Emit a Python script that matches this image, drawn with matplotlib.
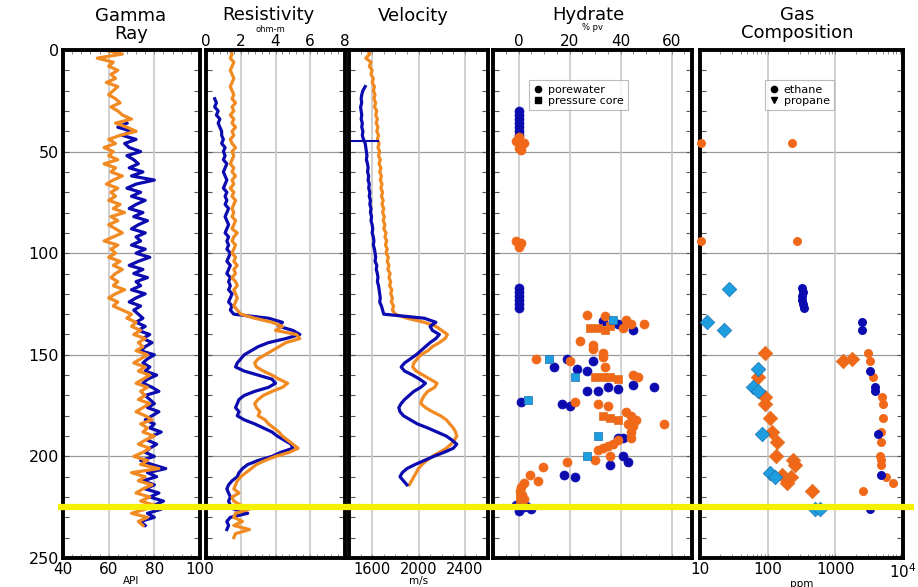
import numpy as np
import matplotlib
matplotlib.use("Agg")
import matplotlib.pyplot as plt
from matplotlib.ticker import MultipleLocator, FixedLocator, FixedFormatter, AutoMinorLocator, NullFormatter
from matplotlib.lines import Line2D

plt.rcParams['font.family'] = ['DejaVu Sans']

# ---------------- data ----------------
# gamma ray (API)
gr_orange_depth = np.arange(0, 236, 2)
gr_orange = [58, 66, 55, 62, 60, 64,
             61, 63, 59, 64, 62, 60, 63, 65, 61, 64,
             66, 70, 63, 68, 72, 65, 60, 63, 58, 62,
             60, 64, 58, 63, 61, 66, 62, 59, 64, 61,
             63, 60, 65, 62, 67, 61, 64, 60, 63, 66,
             62, 58, 64, 61, 63, 60, 65, 62, 66, 63,
             61, 64, 62, 67, 63, 60, 64, 62, 66, 70,
             68, 72, 70, 74, 71, 76, 73, 75, 72, 77,
             74, 71, 76, 73, 78, 75, 72, 77, 74, 76,
             73, 78, 75, 72, 76, 79, 74, 77, 75, 80,
             76, 73, 78, 75, 71, 77, 74, 82, 70, 76,
             73, 79, 75, 72, 78, 74, 80, 76, 70, 77, 73, 75]
gr_blue_depth = np.arange(36, 236, 2)
gr_blue = [68, 64, 70, 66, 72, 67, 69, 74, 68, 71,
           73, 69, 75, 70, 80, 72, 68, 74, 70, 76,
           72, 69, 75, 71, 77, 73, 70, 76, 72, 74,
           70, 76, 72, 78, 73, 69, 75, 71, 77, 72,
           74, 70, 76, 72, 69, 74, 71, 73, 75, 72,
           76, 73, 78, 75, 79, 76, 74, 80, 77, 75,
           78, 76, 81, 77, 75, 79, 82, 76, 78, 80,
           77, 82, 79, 76, 80, 78, 83, 79, 77, 81,
           78, 76, 80, 74, 79, 85, 77, 81, 75, 80,
           76, 82, 78, 84, 80, 83, 77, 80, 74, 76]

# resistivity (ohm-m)
res_orange_depth = np.arange(0, 242, 2)
res_orange = [1.4, 1.5, 1.4, 1.6, 1.5, 1.4, 1.5, 1.6, 1.5, 1.4, 1.5,
              1.6, 1.5, 1.7, 1.5, 1.6, 1.4, 1.6, 1.5, 1.7, 1.5,
              1.6, 1.4, 1.5, 1.7, 1.5, 1.6, 1.5, 1.4, 1.6, 1.5,
              1.7, 1.5, 1.6, 1.4, 1.6, 1.5, 1.7, 1.6, 1.5, 1.6,
              1.5, 1.7, 1.6, 1.5, 1.8, 1.6, 1.5, 1.7, 1.6, 1.5,
              1.7, 1.6, 1.8, 1.6, 1.7, 1.5, 1.7, 1.8, 1.6, 1.7,
              1.8, 1.7, 1.6, 1.8, 2.0,
              2.8, 3.8, 4.4, 4.0, 5.2, 5.4, 4.6, 4.2, 3.8, 3.4,
              3.0, 2.8, 2.9, 3.3, 3.8, 4.2, 4.7, 4.4, 3.8, 3.3,
              3.0, 2.8, 2.9, 3.1, 3.0, 3.4, 3.6, 3.9, 4.2, 4.4,
              4.7, 5.0, 5.3, 4.8, 4.0, 3.4, 2.9, 2.6, 2.3, 2.0,
              1.8, 1.7, 1.6, 1.9, 1.5, 1.6, 2.0, 2.5, 1.7, 1.6,
              2.1, 1.6, 2.5, 1.7, 1.6]
res_blue_depth = np.arange(24, 238, 2)
res_blue = [0.5, 0.6, 0.5, 0.7, 0.6, 0.8, 0.7, 0.8, 0.9,
            0.9, 1.0, 0.9, 1.1, 1.0, 1.1, 1.0, 1.2, 1.1, 1.0,
            1.1, 1.2, 1.1, 1.0, 1.2, 1.1, 1.2, 1.1, 1.3, 1.2,
            1.1, 1.2, 1.3, 1.2, 1.1, 1.3, 1.2, 1.3, 1.2, 1.4,
            1.3, 1.2, 1.4, 1.3, 1.2, 1.4, 1.3, 1.4, 1.3, 1.5,
            1.4, 1.3, 1.5, 1.4, 1.6,
            3.6, 4.4, 4.2, 5.0, 5.4, 4.6, 3.6, 3.0, 2.6, 2.2,
            2.0, 1.8, 1.7, 2.2, 3.0, 3.8, 4.0, 3.6, 2.8, 2.2,
            1.9, 1.8, 1.7, 1.9, 1.8, 2.2, 2.8, 3.3, 3.8, 4.1,
            4.5, 4.9, 5.0, 4.3, 3.8, 3.0, 2.4, 2.1, 1.9, 1.8,
            1.5, 1.3, 1.2, 1.3, 1.4, 1.3, 1.4, 1.6, 2.4, 1.4,
            1.2, 1.3, 1.2]

# velocity (m/s)
vel_orange_depth = np.arange(0, 216, 2)
vel_orange = [1560, 1580, 1545, 1590, 1575, 1600, 1590, 1610, 1600, 1620, 1610,
              1625, 1615, 1630, 1620, 1640, 1630, 1645, 1635, 1650, 1640,
              1655, 1645, 1660, 1650, 1665, 1655, 1670, 1660, 1675, 1665,
              1680, 1670, 1685, 1675, 1690, 1680, 1695, 1685, 1700, 1690,
              1705, 1695, 1710, 1700, 1720, 1710, 1725, 1715, 1730, 1720,
              1740, 1730, 1745, 1735, 1755, 1745, 1760, 1750, 1770, 1760,
              1775, 1765, 1785, 1775, 1800,
              1900, 2050, 2150, 2200, 2250, 2230, 2180, 2120, 2080, 2020,
              1990, 1960, 1950, 1980, 2040, 2100, 2160, 2140, 2080, 2050,
              2030, 2020, 2060, 2120, 2190, 2240, 2270, 2300, 2320, 2330,
              2310, 2280, 2240, 2180, 2120, 2070, 2030, 2000, 1980, 1960,
              1940, 1920]
vel_blue_depth = np.arange(18, 216, 2)
vel_blue = [1540, 1520, 1510, 1505, 1510, 1500, 1505,
            1510, 1505, 1515, 1510, 1520, 1515, 1525,
            1540, 1545, 1550, 1555, 1550, 1560, 1565, 1560,
            1570, 1565, 1575, 1570, 1580, 1575, 1585, 1580, 1590, 1585,
            1595, 1590, 1600, 1605, 1600, 1610, 1615, 1610, 1620, 1625,
            1630, 1625, 1640, 1635, 1645, 1650, 1645, 1655, 1660, 1665,
            1670, 1665, 1680, 1690, 1700,
            2050, 2150, 2100, 2120, 2180, 2150, 2100, 2060, 2020, 1980,
            1930, 1880, 1850, 1880, 1950, 2010, 2060, 2020, 1960, 1920,
            1880, 1850, 1830, 1840, 1870, 1930, 1990, 2080, 2160, 2240,
            2290, 2330, 2300, 2220, 2130, 2050, 1970, 1900, 1860, 1840,
            1870, 1900]
vel_jog_depth = [45, 45]
vel_jog = [1420, 1650]

# hydrate (% pore volume)
hyd_pw_a_depth = [30, 32, 34, 36, 38, 40, 42, 117, 119, 121, 123, 125, 127,
                  133.5, 135, 138, 152, 153, 156, 157, 158, 165, 168, 168, 166, 167, 166,
                  173, 174, 175, 191, 191, 200, 203, 204, 209, 210,
                  224, 225, 226, 227, 224.5]
hyd_pw_a = [0, 0, 0, 0, 0, 0, 0, 0, 0, 0, 0, 0, 0,
            33, 39, 45, 19, 29, 14, 23, 27, 45, 27, 31, 35, 39, 53,
            1, 17, 20, 39, 41, 41, 43, 36, 18, 22,
            -1, 2, 5, 0, 3]
hyd_pw_b_depth = [43, 45, 46, 48, 49, 94, 95, 97,
                  130.5, 131, 133, 135, 135, 137, 143, 145, 147, 149, 151, 152, 153, 156,
                  160, 161, 173, 174, 175, 178, 180, 182, 184, 185, 184, 188, 191,
                  192, 194, 195, 196, 197, 200, 202, 203, 205, 209, 212, 213, 215,
                  217, 219, 221]
hyd_pw_b = [0, -1, 2, 0, 1, -1, 1, 0,
            27, 34, 42, 44, 49, 41, 24, 29, 29, 33, 33, 7, 20, 34,
            45, 47, 22, 31, 35, 42, 44, 46, 43, 45, 57, 44, 44,
            39, 37, 35, 33, 31, 36, 30, 19, 9.5, 4.4, 7.5, 2, 1,
            0.5, 1.5, 2]
hyd_pc_a_depth = [133, 152, 161, 172, 190, 200]
hyd_pc_a = [37, 12, 22, 3.6, 31, 27]
hyd_pc_b_depth = [137, 137, 138, 136, 161, 161, 161, 162, 180, 181, 182, 221, 219]
hyd_pc_b = [28, 31, 34, 36, 30, 33, 36, 39, 33, 36, 39, 0.4, 0.5]

# gas composition (ppm)
eth_a_depth = [117, 119, 121, 123, 125, 127, 134, 138, 158, 166, 168, 189, 209, 226]
eth_a = [320, 330, 320, 320, 330, 340, 2450, 2500, 3200, 3800, 3900, 4300, 4800, 3200]
eth_b_depth = [45.7, 46, 94, 94, 149, 153, 161, 171, 174, 181, 188, 193, 200, 202, 204, 210, 213, 217]
eth_b = [10.5, 228, 10.5, 270, 3000, 3200, 3600, 4900, 5000, 5000, 4700, 4700, 4600, 4700,
         4800, 5700, 7000, 2550]
prop_a_depth = [117.5, 134, 138, 157, 166, 168, 189, 208, 210, 226, 226]
prop_a = [27, 12.7, 23, 72, 60, 72, 82, 108, 128, 500, 590]
prop_b_depth = [149, 152, 153, 161, 171, 174, 181, 188, 193, 200, 202, 204, 209, 210, 213, 217]
prop_b = [91, 1780, 1300, 72, 91, 91, 108, 116, 137, 133, 235, 250, 165, 220, 192, 450]

hydrate_depth = 225

# ---------------- figure ----------------
W, H = 918, 587
fig = plt.figure(figsize=(W / 100, H / 100), dpi=100)

def pos(x0, x1, y0=50, y1=558):
    return [x0 / W, 1 - y1 / H, (x1 - x0) / W, (y1 - y0) / H]

orange = '#f28a22'
blue = '#0b0bb0'
ptorange = '#f06818'
ltblue = '#1e9ee0'
gridc = '#c8c8c8'

ax_gr = fig.add_axes(pos(63, 200))
ax_res = fig.add_axes(pos(206, 345))
ax_vel = fig.add_axes(pos(349, 488))
ax_hyd = fig.add_axes(pos(493, 692))
ax_gas = fig.add_axes(pos(700, 903))
axes = [ax_gr, ax_res, ax_vel, ax_hyd, ax_gas]

for ax in axes:
    ax.set_ylim(250, 0)
    ax.yaxis.set_major_locator(MultipleLocator(50))
    ax.yaxis.set_minor_locator(MultipleLocator(10))
    ax.tick_params(axis='y', which='both', direction='in', left=True, right=True,
                   labelleft=False, length=4, width=0.8, color='#555555')
    ax.tick_params(axis='x', which='both', direction='in', top=True, bottom=True,
                   length=3, width=0.6, color='#777777')
    for s in ax.spines.values():
        s.set_linewidth(2.8)
        s.set_color('black')
    for d in [50, 100, 150, 200]:
        ax.axhline(d, color='#9a9a9a', lw=0.9, zorder=0)

ax_gr.tick_params(axis='y', labelleft=True, labelsize=11.5, pad=3)

lw_log = 2.3

# gamma ray
ax_gr.plot(gr_blue, gr_blue_depth, color=blue, lw=lw_log)
ax_gr.plot(gr_orange, gr_orange_depth, color=orange, lw=lw_log)
ax_gr.set_xlim(40, 100)
ax_gr.set_xticks([40, 60, 80, 100])
ax_gr.xaxis.set_minor_locator(AutoMinorLocator(5))
ax_gr.tick_params(axis='x', labelsize=11, pad=3)
ax_gr.set_xlabel('API', fontsize=7.5, labelpad=-1)

# resistivity
ax_res.plot(res_blue, res_blue_depth, color=blue, lw=lw_log)
ax_res.plot(res_orange, res_orange_depth, color=orange, lw=lw_log)
ax_res.set_xlim(0, 8)
ax_res.set_xticks([0, 2, 4, 6, 8])
ax_res.xaxis.set_minor_locator(AutoMinorLocator(5))
ax_res.tick_params(axis='x', labeltop=True, labelbottom=False, labelsize=11, pad=1)

# velocity
ax_vel.plot(vel_orange, vel_orange_depth, color=orange, lw=lw_log)
ax_vel.plot(vel_blue, vel_blue_depth, color=blue, lw=lw_log)
ax_vel.plot(vel_jog, vel_jog_depth, color=blue, lw=1.5)
ax_vel.set_xlim(1400, 2600)
ax_vel.set_xticks([1600, 2000, 2400])
ax_vel.xaxis.set_minor_locator(AutoMinorLocator(4))
ax_vel.tick_params(axis='x', labelsize=10.5, pad=3)
ax_vel.set_xlabel('m/s', fontsize=7.5, labelpad=-1)

# hydrate
ax_hyd.scatter(hyd_pw_a, hyd_pw_a_depth, s=42, marker='o', color=blue, edgecolor=blue, lw=0.5, zorder=3)
ax_hyd.scatter(hyd_pw_b, hyd_pw_b_depth, s=42, marker='o', color=ptorange, edgecolor=ptorange, lw=0.5, zorder=3)
ax_hyd.scatter(hyd_pc_b, hyd_pc_b_depth, s=40, marker='s', color=ptorange, edgecolor='#e07020', lw=0.5, zorder=3)
ax_hyd.scatter(hyd_pc_a, hyd_pc_a_depth, s=40, marker='s', color=ltblue, edgecolor='#1a70b0', lw=0.5, zorder=4)
ax_hyd.set_xlim(-10, 68)
ax_hyd.set_xticks([0, 20, 40, 60])
ax_hyd.xaxis.set_minor_locator(AutoMinorLocator(4))
ax_hyd.tick_params(axis='x', labeltop=True, labelbottom=False, labelsize=11, pad=1)
h1 = Line2D([], [], ls='none', marker='o', color='black', markersize=4.5)
h2 = Line2D([], [], ls='none', marker='s', color='black', markersize=4.5)
leg = ax_hyd.legend([h1, h2], ['porewater', 'pressure core'], loc='upper left',
                    bbox_to_anchor=(0.18, 0.94), fontsize=8, frameon=True, fancybox=False,
                    handlelength=0.8, handletextpad=0.5, borderpad=0.4, labelspacing=0.1,
                    borderaxespad=0)
leg.get_frame().set_edgecolor('#aaaaaa')
leg.get_frame().set_linewidth(0.8)

# gas composition
ax_gas.set_xscale('log')
ax_gas.scatter(eth_b, eth_b_depth, s=42, marker='o', color=ptorange, lw=0, zorder=3, clip_on=False)
ax_gas.scatter(eth_a, eth_a_depth, s=42, marker='o', color=blue, lw=0, zorder=3)
ax_gas.scatter(prop_b, prop_b_depth, s=55, marker='D', color=ptorange, edgecolor='#e07020', lw=0.5, zorder=3)
ax_gas.scatter(prop_a, prop_a_depth, s=55, marker='D', color=ltblue, edgecolor='#1a70b0', lw=0.5, zorder=4,
               clip_on=False)
ax_gas.set_xlim(10, 1e4)
ax_gas.xaxis.set_major_locator(FixedLocator([10, 100, 1000, 10000]))
ax_gas.xaxis.set_major_formatter(FixedFormatter(['10', '100', '1000', '$10^4$']))
ax_gas.xaxis.set_minor_formatter(NullFormatter())
ax_gas.tick_params(axis='x', labelsize=11, pad=3)
ax_gas.set_xlabel('ppm', fontsize=7.5, labelpad=-1)
h3 = Line2D([], [], ls='none', marker='o', color='black', markersize=4.5)
h4 = Line2D([], [], ls='none', marker='v', color='black', markersize=4.5)
leg2 = ax_gas.legend([h3, h4], ['ethane', 'propane'], loc='upper left',
                     bbox_to_anchor=(0.32, 0.94), fontsize=8, frameon=True, fancybox=False,
                     handlelength=0.8, handletextpad=0.5, borderpad=0.4, labelspacing=0.1,
                     borderaxespad=0)
leg2.get_frame().set_edgecolor('#aaaaaa')
leg2.get_frame().set_linewidth(0.8)

# vertical grid lines
for ax in axes:
    ax.grid(axis='x', which='major', color=gridc, lw=1.2, zorder=0)

# titles and top unit labels
tfs = 13
fig.text(131 / W, 1 - 16 / H, 'Gamma', ha='center', va='center', fontsize=tfs)
fig.text(131 / W, 1 - 34 / H, 'Ray', ha='center', va='center', fontsize=tfs)
fig.text(268 / W, 1 - 15 / H, 'Resistivity', ha='center', va='center', fontsize=tfs)
fig.text(413 / W, 1 - 16 / H, 'Velocity', ha='center', va='center', fontsize=tfs)
fig.text(588 / W, 1 - 15 / H, 'Hydrate', ha='center', va='center', fontsize=tfs)
fig.text(797 / W, 1 - 15 / H, 'Gas', ha='center', va='center', fontsize=tfs)
fig.text(797 / W, 1 - 33 / H, 'Composition', ha='center', va='center', fontsize=tfs)
fig.text(270 / W, 1 - 29 / H, 'ohm-m', ha='center', va='center', fontsize=6)
fig.text(592 / W, 1 - 28 / H, '% pv', ha='center', va='center', fontsize=6)

# hydrate stability depth band across all tracks
yb = ax_gr.transData.transform((0, hydrate_depth))[1] / H
fig.add_artist(Line2D([58 / W, 914 / W], [yb, yb], color='#f4f000', lw=4.5, zorder=10,
                      solid_capstyle='butt'))

fig.savefig('out.png', dpi=100)
